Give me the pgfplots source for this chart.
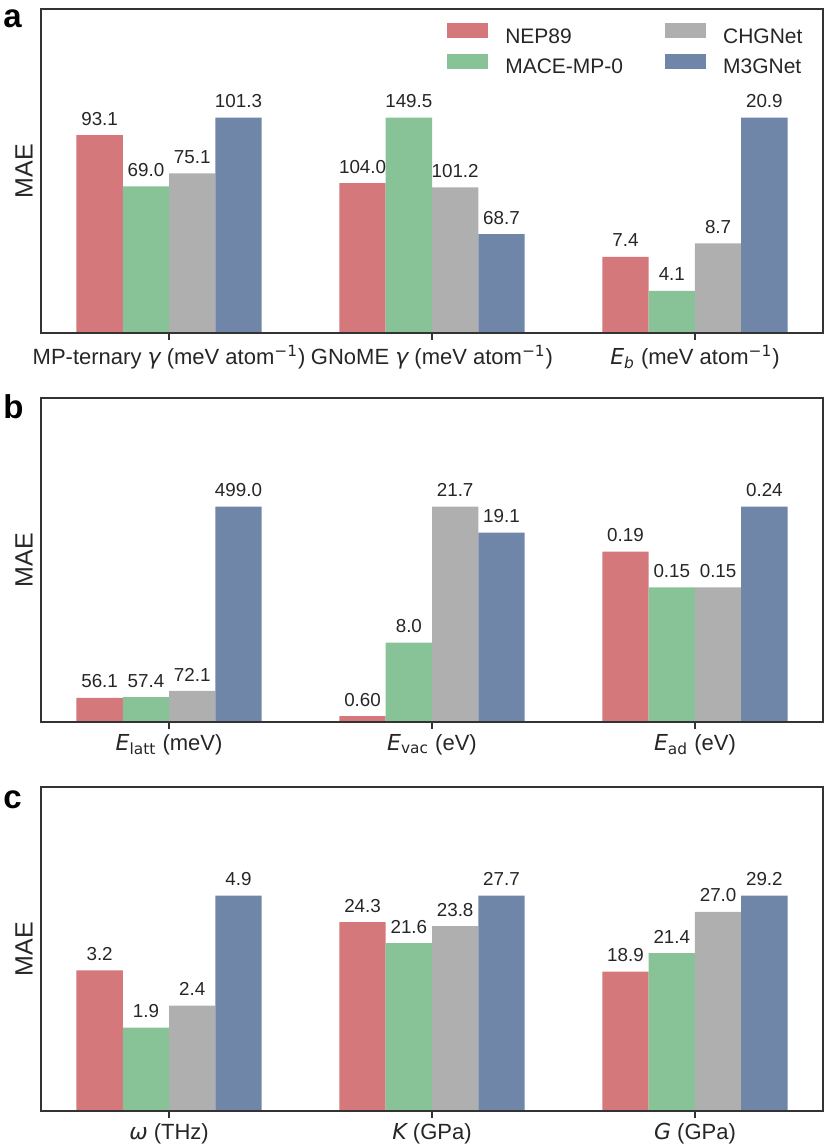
\documentclass[border=0pt]{standalone}
\usepackage{pgfplots}
\pgfplotsset{compat=1.18}
\usepackage{pgfplotstable}
\usepackage{fontspec}
\setmainfont{Liberation Sans}
\newfontfamily\dvs{DejaVu Sans}
\newcommand\mi[1]{{\dvs\itshape #1}}
\newcommand\perat{(meV atom\textsuperscript{\dvs −1})}

\definecolor{cNep}{HTML}{D4787C}
\definecolor{cMace}{HTML}{88C397}
\definecolor{cChg}{HTML}{AFAFAF}
\definecolor{cMgn}{HTML}{6F86A9}
\definecolor{spine}{HTML}{333333}

% mx = largest value of the group, bars are drawn as value/mx
\pgfplotstableread{
x mx nep mace chg mgn
0 101.3 93.1 69.0 75.1 101.3
1 149.5 104.0 149.5 101.2 68.7
2 20.9 7.4 4.1 8.7 20.9
}\tabA
\pgfplotstableread{
x mx nep mace chg mgn
0 499.0 56.1 57.4 72.1 499.0
1 21.7 0.60 8.0 21.7 19.1
2 0.24 0.19 0.15 0.15 0.24
}\tabB
\pgfplotstableread{
x mx nep mace chg mgn
0 4.9 3.2 1.9 2.4 4.9
1 27.7 24.3 21.6 23.8 27.7
2 29.2 18.9 21.4 27.0 29.2
}\tabC

\tikzset{panel/.style={font=\fontsize{16.5}{19}\selectfont\bfseries, anchor=base west, inner sep=0pt}}

\pgfplotsset{
  maebars/.style={
    scale only axis, width=391pt, height=162pt,
    anchor=south west,
    xmin=-0.487, xmax=2.487, ymin=0, ymax=1.505,
    ybar=0pt, bar width=0.176,
    xtick={0,1,2}, ytick=\empty,
    tick align=outside, xtick pos=left,
    major tick length=3.5pt,
    every tick/.style={spine, line width=0.8pt},
    axis line style={spine, line width=0.8pt},
    xticklabel style={font=\fontsize{11}{13}\selectfont, text=black!85, yshift=1pt},
    ylabel=MAE,
    ylabel style={at={([xshift=-4pt]axis description cs:0,0.5)}, anchor=south,
      inner sep=0pt, font=\fontsize{12.5}{15}\selectfont, text=black!85},
    nodes near coords, point meta=explicit symbolic,
    every node near coord/.append style={font=\fontsize{9.4}{11}\selectfont,
      anchor=south, inner sep=0pt, yshift=4.7pt, text=black!85},
    clip=false, axis on top,
  },
}

\begin{document}
\begin{tikzpicture}
\useasboundingbox (-20.5pt,0pt) rectangle (394.5pt,-572pt);

\begin{axis}[maebars, at={(0pt,-166.5pt)},
  xticklabels={{MP-ternary \mi{γ} \perat},
               {GNoME \mi{γ} \perat},
               {\mi{E}\textsubscript{\mi{b}} \perat}},
  legend columns=2, transpose legend, legend cell align=left,
  legend image code/.code={\fill[#1] (0pt,-0.3pt) rectangle (20.5pt,7.2pt);},
  legend style={draw=none, fill=none, inner sep=0pt,
    at={(axis description cs:0.519,0.957)}, anchor=north west,
    font=\fontsize{10.5}{12}\selectfont, text=black!85,
    nodes={inner sep=0pt}, row sep=3.5pt,
    /tikz/every odd column/.append style={column sep=8.5pt},
    /tikz/every even column/.append style={column sep=21pt}},
]
\addplot[fill=cNep, draw=none] table[x=x, y expr=\thisrow{nep}/\thisrow{mx}, meta=nep] {\tabA};
\addplot[fill=cMace, draw=none] table[x=x, y expr=\thisrow{mace}/\thisrow{mx}, meta=mace] {\tabA};
\addplot[fill=cChg, draw=none] table[x=x, y expr=\thisrow{chg}/\thisrow{mx}, meta=chg] {\tabA};
\addplot[fill=cMgn, draw=none] table[x=x, y expr=\thisrow{mgn}/\thisrow{mx}, meta=mgn] {\tabA};
\legend{NEP89, MACE-MP-0, CHGNet, M3GNet}
\node[panel] at ([xshift=-19pt,yshift=-9.5pt]rel axis cs:0,1) {a};
\end{axis}

\begin{axis}[maebars, at={(0pt,-361pt)},
  xticklabels={{\mi{E}\textsubscript{\dvs latt} (meV)},
               {\mi{E}\textsubscript{\dvs vac} (eV)},
               {\mi{E}\textsubscript{\dvs ad} (eV)}},
]
\addplot[fill=cNep, draw=none] table[x=x, y expr=\thisrow{nep}/\thisrow{mx}, meta=nep] {\tabB};
\addplot[fill=cMace, draw=none] table[x=x, y expr=\thisrow{mace}/\thisrow{mx}, meta=mace] {\tabB};
\addplot[fill=cChg, draw=none] table[x=x, y expr=\thisrow{chg}/\thisrow{mx}, meta=chg] {\tabB};
\addplot[fill=cMgn, draw=none] table[x=x, y expr=\thisrow{mgn}/\thisrow{mx}, meta=mgn] {\tabB};
\node[panel] at ([xshift=-19pt,yshift=-10.5pt]rel axis cs:0,1) {b};
\end{axis}

\begin{axis}[maebars, at={(0pt,-555.5pt)},
  xticklabels={{\mi{ω} (THz)},
               {\mi{K} (GPa)},
               {\mi{G} (GPa)}},
]
\addplot[fill=cNep, draw=none] table[x=x, y expr=\thisrow{nep}/\thisrow{mx}, meta=nep] {\tabC};
\addplot[fill=cMace, draw=none] table[x=x, y expr=\thisrow{mace}/\thisrow{mx}, meta=mace] {\tabC};
\addplot[fill=cChg, draw=none] table[x=x, y expr=\thisrow{chg}/\thisrow{mx}, meta=chg] {\tabC};
\addplot[fill=cMgn, draw=none] table[x=x, y expr=\thisrow{mgn}/\thisrow{mx}, meta=mgn] {\tabC};
\node[panel] at ([xshift=-19pt,yshift=-10.5pt]rel axis cs:0,1) {c};
\end{axis}
\end{tikzpicture}
\end{document}
